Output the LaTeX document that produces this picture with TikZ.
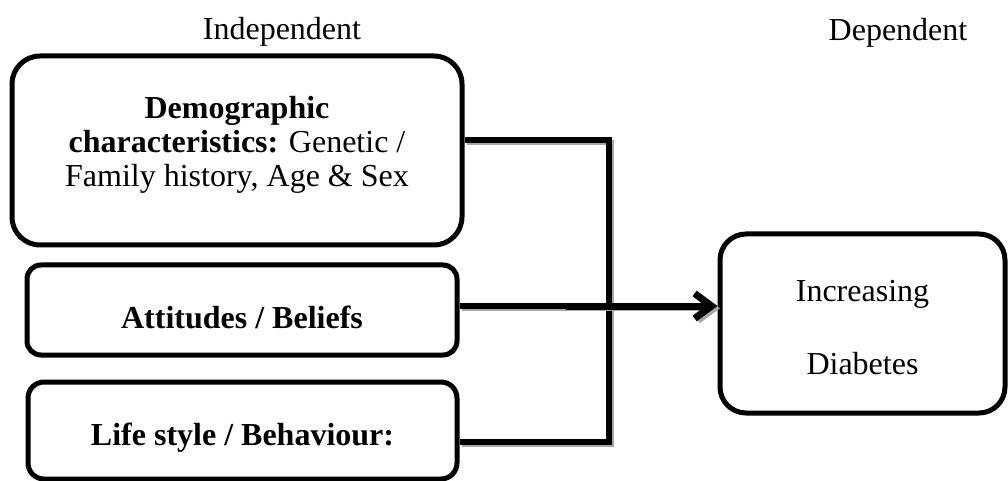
\documentclass[tikz,border=0pt]{standalone}
\usepackage{fontspec}
\setmainfont{Liberation Serif}
\usetikzlibrary{arrows.meta, calc, positioning}

\begin{document}
\begin{tikzpicture}[x=0.5pt, y=-0.5pt,
    varbox/.style={draw, line width=2.5pt, align=center, inner sep=0pt,
      font=\fontsize{16}{17}\selectfont},
    conn/.style={line width=2.8pt,
      preaction={draw=black!35, line width=2.8pt,
        transform canvas={shift={(1.2pt,-1.2pt)}}}},
    tip/.style={-{Straight Barb[length=8.5pt, width=12.5pt]}}]
  \useasboundingbox (0,0) rectangle (1008,481);
  % column headings
  \node[font=\fontsize{16}{17}\selectfont] (indep) at (282,32) {Independent};
  \node[font=\fontsize{16}{17}\selectfont] (dep) at (898,33) {Dependent};
  % independent variables
  \node[varbox, rounded corners=14pt, minimum width=225pt, minimum height=94.5pt]
    (demo) at (237,150.5) {\textbf{Demographic}\\ \textbf{characteristics:} Genetic /\\
      Family history, Age \& Sex\rule[-9pt]{0pt}{9pt}};
  \node[varbox, rounded corners=7pt, minimum width=215pt, minimum height=45pt]
    (att) at (242,310) {\rule{0pt}{19pt}\textbf{Attitudes / Beliefs}};
  \node[varbox, rounded corners=8pt, minimum width=214.5pt, minimum height=48.5pt]
    (life) at (242.5,430.5) {\rule{0pt}{18pt}\textbf{Life style / Behaviour:}};
  % dependent variable
  \node[varbox, rounded corners=13pt, minimum width=142.5pt, minimum height=89.5pt,
    font=\fontsize{16}{36.5}\selectfont] (diab) at (862.5,323.5)
    {\rule{0pt}{15pt}Increasing\\ Diabetes};
  % connectors
  \coordinate (bustop) at (609,140);
  \coordinate (busmid) at (609,306);
  \coordinate (busbot) at (609,442);
  \coordinate (arrstart) at (566,306);
  \draw[conn] (demo.east |- bustop) -- (bustop) -- (busbot) -- (life.east |- busbot);
  \draw[conn] (att.east |- busmid) -- (arrstart);
  \draw[conn, line width=3.5pt, tip] (arrstart) -- (diab.west |- busmid);
\end{tikzpicture}
\end{document}
